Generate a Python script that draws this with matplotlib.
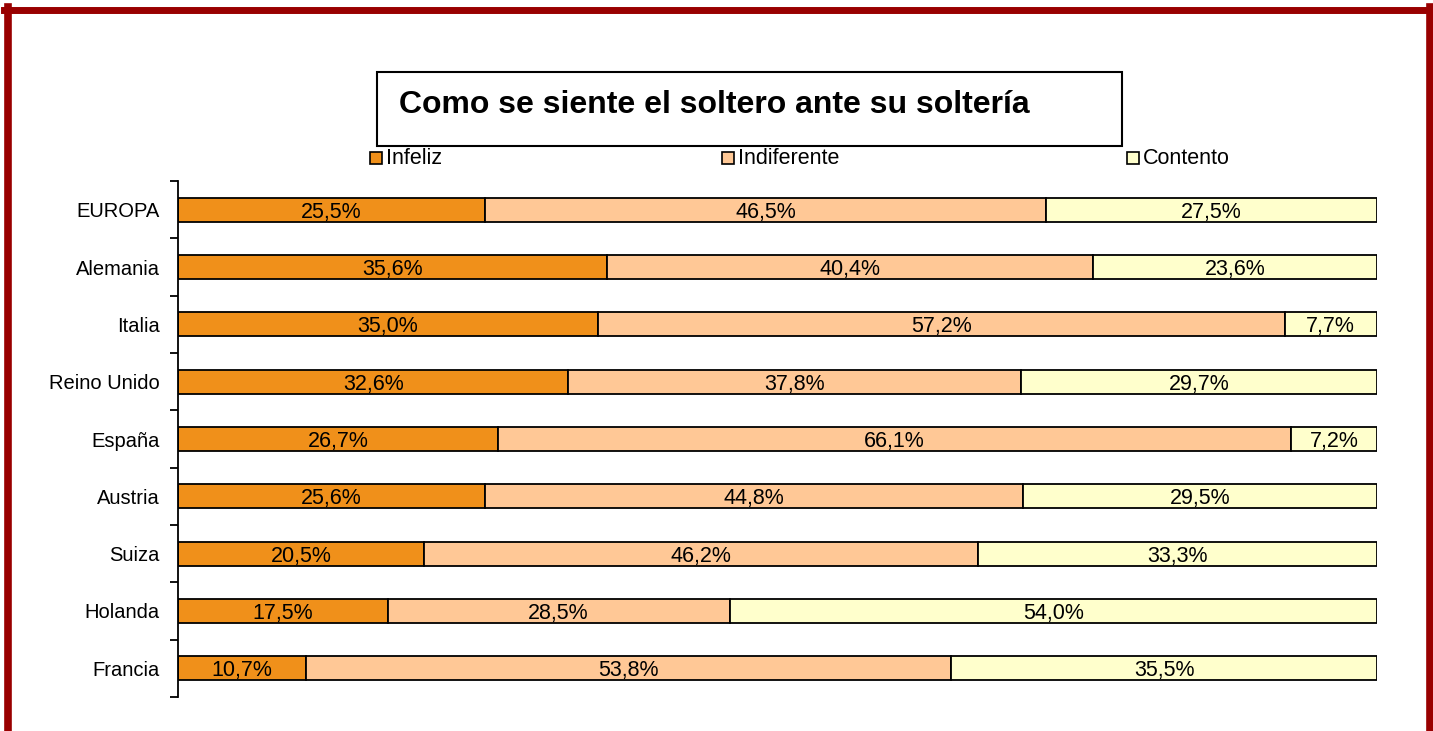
import matplotlib.pyplot as plt
import matplotlib.patches as mpatches
import matplotlib.lines as mlines
import numpy as np

plt.rcParams['font.family'] = ['Liberation Sans', 'DejaVu Sans']

# data
paises = ["EUROPA", "Alemania", "Italia", "Reino Unido", "España",
          "Austria", "Suiza", "Holanda", "Francia"]
infeliz = [25.5, 35.6, 35.0, 32.6, 26.7, 25.6, 20.5, 17.5, 10.7]
indiferente = [46.5, 40.4, 57.2, 37.8, 66.1, 44.8, 46.2, 28.5, 53.8]
contento = [27.5, 23.6, 7.7, 29.7, 7.2, 29.5, 33.3, 54.0, 35.5]
series = ["Infeliz", "Indiferente", "Contento"]
colores = ["#F0901A", "#FFC896", "#FFFFCC"]

W, H = 1433, 731
fig = plt.figure(figsize=(W / 100, H / 100), dpi=100)
ax = fig.add_axes([178 / W, 1 - 697 / H, (1377 - 178) / W, (697 - 181) / H])

vals = np.array([infeliz, indiferente, contento])
tot = vals.sum(axis=0)
pct = vals / tot * 100
y = np.arange(len(paises))

left = np.zeros(len(paises))
for k in range(3):
    ax.barh(y, pct[k], left=left, height=0.42, color=colores[k],
            edgecolor="black", linewidth=1.3)
    for i in range(len(paises)):
        txt = f"{vals[k][i]:.1f}%".replace(".", ",")
        ax.text(left[i] + pct[k][i] / 2, y[i], txt, ha="center",
                va="center_baseline", fontsize=15.5)
    left += pct[k]

ax.set_xlim(0, 100)
ax.set_ylim(len(paises) - 0.5, -0.5)
ax.set_yticks(y)
ax.set_yticklabels(paises, fontsize=14.5)
ax.set_yticks(np.arange(-0.5, len(paises), 1), minor=True)
ax.tick_params(axis="y", which="major", length=0, pad=13)
ax.tick_params(axis="y", which="minor", length=6, width=1.3, direction="out")
ax.set_xticks([])
for s in ["top", "right", "bottom"]:
    ax.spines[s].set_visible(False)
ax.spines["left"].set_linewidth(1.3)

# title box
fig.patches.append(mpatches.Rectangle((377 / W, 1 - 146 / H), (1122 - 377) / W, 74 / H,
                                      transform=fig.transFigure, facecolor="white",
                                      edgecolor="black", linewidth=1.5))
fig.text(399 / W, 1 - 105 / H, "Como se siente el soltero ante su soltería",
         fontsize=23, fontweight="bold", va="center", ha="left")

# legend
leg_x = [370, 722, 1127]
for k in range(3):
    fig.patches.append(mpatches.Rectangle((leg_x[k] / W, 1 - 164 / H), 12 / W, 12 / H,
                                          transform=fig.transFigure, facecolor=colores[k],
                                          edgecolor="black", linewidth=1.2))
    fig.text((leg_x[k] + 16) / W, 1 - 159 / H, series[k], fontsize=15.5,
             va="center", ha="left")

# outer dark red frame
rojo = "#990000"
fig.lines.append(mlines.Line2D([7.5 / W, 7.5 / W], [0, 1 - 7 / H], color=rojo, linewidth=5.5,
                               transform=fig.transFigure))
fig.lines.append(mlines.Line2D([1430 / W, 1430 / W], [0, 1 - 7 / H], color=rojo, linewidth=5.5,
                               transform=fig.transFigure))
fig.lines.append(mlines.Line2D([4 / W, 1433 / W], [1 - 10 / H, 1 - 10 / H], color=rojo,
                               linewidth=5, transform=fig.transFigure))

fig.savefig("out.png", dpi=100)
